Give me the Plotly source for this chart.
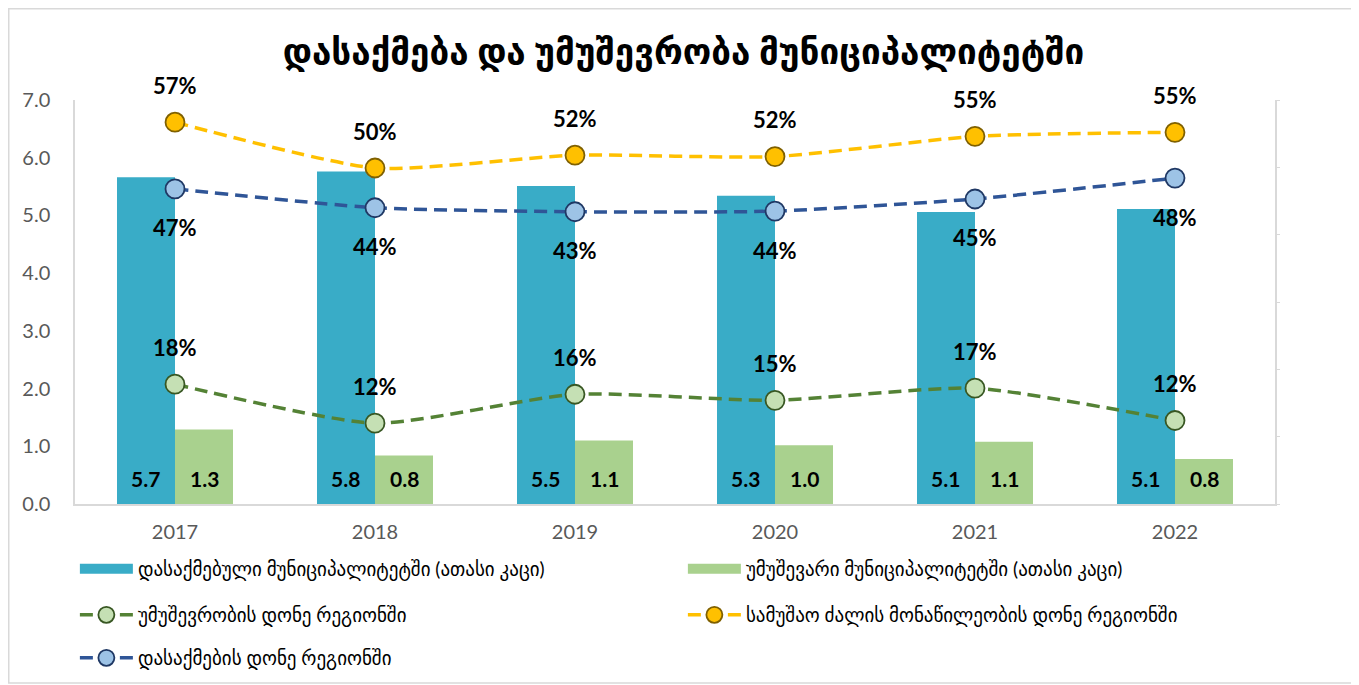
import plotly.graph_objects as go

years = ["2017", "2018", "2019", "2020", "2021", "2022"]
employed = [5.66, 5.76, 5.51, 5.34, 5.06, 5.11]
unemployed = [1.29, 0.84, 1.10, 1.02, 1.08, 0.78]
unemp_rate = [0.178, 0.120, 0.163, 0.154, 0.172, 0.124]
particip_rate = [0.567, 0.499, 0.518, 0.516, 0.546, 0.552]
employ_rate = [0.468, 0.440, 0.434, 0.435, 0.453, 0.484]

names = [
    "დასაქმებული მუნიციპალიტეტში (ათასი კაცი)",
    "უმუშევარი მუნიციპალიტეტში (ათასი კაცი)",
    "უმუშევრობის დონე რეგიონში",
    "სამუშაო ძალის მონაწილეობის დონე რეგიონში",
    "დასაქმების დონე რეგიონში",
]
title = "დასაქმება და უმუშევრობა მუნიციპალიტეტში"

FONT = "Lato, 'DejaVu Sans', sans-serif"

# page is offset by 8px body margin; figure coordinates = page - 8
W, H = 1351, 677
L, T, R, B = 67, 92, 84, 181
PW, PH = W - L - R, H - T - B

bar_colors = ["#39ACC7", "#A9D18E"]

fig = go.Figure()
fig.add_trace(go.Bar(x=years, y=employed, name=names[0], marker_color=bar_colors[0],
                     marker_line_width=0, showlegend=False))
fig.add_trace(go.Bar(x=years, y=unemployed, name=names[1], marker_color=bar_colors[1],
                     marker_line_width=0, showlegend=False))
# legend swatches for the bars (wide rectangles, as in the original legend)
for nm, col in zip(names[:2], bar_colors):
    fig.add_trace(go.Scatter(x=[None], y=[None], name=nm, mode="lines", legend="legend",
                             line=dict(color=col, width=13)))

line_specs = [
    (unemp_rate, names[2], "#548235", "#C5E0B4", "#385723", "legend2"),
    (particip_rate, names[3], "#FFC000", "#FFC000", "#7F6000", "legend2"),
    (employ_rate, names[4], "#2F5597", "#9DC3E6", "#1F3864", "legend3"),
]
for vals, nm, lc, fc, ec, lg in line_specs:
    fig.add_trace(go.Scatter(
        x=years, y=vals, name=nm, yaxis="y2", mode="lines+markers", legend=lg,
        line=dict(color=lc, width=3.5, dash="13px,7px", shape="spline", smoothing=0.6),
        marker=dict(size=19, color=fc, line=dict(color=ec, width=1.8)),
    ))

annotations = []
bar_font = dict(family=FONT, size=21, color="#000000")
pct_font = dict(family=FONT, size=22, color="#000000")
for i, yr in enumerate(years):
    annotations.append(dict(x=i, y=0, xref="x", yref="y", xshift=-30, yshift=26,
                            text=f"<b>{employed[i]:.1f}</b>", showarrow=False,
                            font=bar_font, yanchor="middle"))
    annotations.append(dict(x=i, y=0, xref="x", yref="y", xshift=29, yshift=26,
                            text=f"<b>{unemployed[i]:.1f}</b>", showarrow=False,
                            font=bar_font, yanchor="middle"))
    annotations.append(dict(x=i, y=unemp_rate[i], xref="x", yref="y2", yshift=37,
                            text=f"<b>{unemp_rate[i]*100:.0f}%</b>", showarrow=False,
                            font=pct_font, yanchor="middle"))
    annotations.append(dict(x=i, y=particip_rate[i], xref="x", yref="y2", yshift=37,
                            text=f"<b>{particip_rate[i]*100:.0f}%</b>", showarrow=False,
                            font=pct_font, yanchor="middle"))
    annotations.append(dict(x=i, y=employ_rate[i], xref="x", yref="y2", yshift=-39,
                            text=f"<b>{employ_rate[i]*100:.0f}%</b>", showarrow=False,
                            font=pct_font, yanchor="middle"))

def legend_at(fig_y):
    return dict(orientation="h", x=-0.0001, xanchor="left", y=(H - B - fig_y) / PH,
                yanchor="middle", entrywidth=540, entrywidthmode="pixels",
                itemwidth=53, bgcolor="rgba(0,0,0,0)", borderwidth=0,
                font=dict(family=FONT, size=19, color="#000000"))

axis_col = "#D9D9D9"
fig.update_layout(
    width=W, height=H,
    margin=dict(l=L, r=R, t=T, b=B, autoexpand=False),
    paper_bgcolor="white", plot_bgcolor="white",
    barmode="group", bargap=0.42, bargroupgap=0,
    title=dict(text=f"<b>{title}</b>", x=0.5, xanchor="center",
               y=1 - 44 / H, yanchor="middle",
               font=dict(family=FONT, size=35, color="#000000")),
    xaxis=dict(type="category", range=[-0.5, 5.5], showline=True, linecolor=axis_col,
               linewidth=2, ticks="outside", ticklen=9, tickcolor="rgba(0,0,0,0)",
               showgrid=False,
               tickfont=dict(family=FONT, size=20, color="#595959")),
    yaxis=dict(range=[0, 7], dtick=1, tickformat=".1f", showline=True, linecolor=axis_col,
               linewidth=1.5, showgrid=False, zeroline=False, ticks="outside",
               ticklen=19, tickcolor="rgba(0,0,0,0)",
               tickfont=dict(family=FONT, size=20, color="#595959")),
    yaxis2=dict(range=[0, 0.6], dtick=0.1, overlaying="y", side="right", showline=True,
                linecolor=axis_col, linewidth=2, showgrid=False, zeroline=False,
                showticklabels=False, ticks="outside", ticklen=3, tickcolor=axis_col),
    legend=legend_at(561),
    legend2=legend_at(607),
    legend3=legend_at(650),
    annotations=annotations,
    showlegend=True,
    shapes=[dict(type="rect", xref="paper", yref="paper",
                 x0=(0.75 - L) / PW, x1=(1345 - L) / PW,
                 y0=(H - B - 675) / PH, y1=(H - B - 0.75) / PH,
                 line=dict(color="#D9D9D9", width=1.5), fillcolor="rgba(0,0,0,0)",
                 layer="below")],
)

fig.write_html("out.html")
